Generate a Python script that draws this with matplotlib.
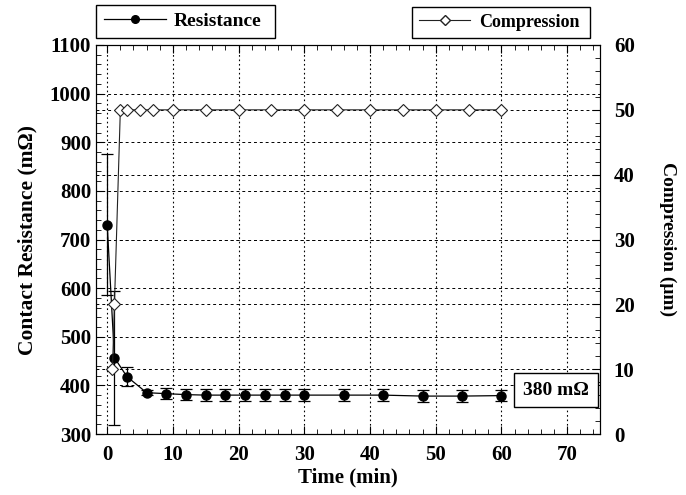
import matplotlib
matplotlib.use("Agg")
import matplotlib.pyplot as plt
from matplotlib.ticker import MultipleLocator
from matplotlib.lines import Line2D

plt.rcParams['font.family'] = ['Liberation Serif', 'DejaVu Serif']
plt.rcParams['font.weight'] = 'bold'

# resistance data (mOhm)
t_res = [0, 1.1, 3, 6, 9, 12, 15, 18, 21, 24, 27, 30, 36, 42, 48, 54, 60]
resistance = [730, 457, 418, 385, 383, 381, 380, 380, 380, 380, 380, 380, 380, 380, 378, 378, 379]
res_err = [145, 138, 19, 5, 12, 12, 12, 12, 12, 12, 12, 12, 12, 12, 12, 12, 12]

# compression data (um)
t_comp = [0.8, 1.1, 2, 3, 5, 7, 10, 15, 20, 25, 30, 35, 40, 45, 50, 55, 60]
compression = [10, 20, 50, 50, 50, 50, 50, 50, 50, 50, 50, 50, 50, 50, 50, 50, 50]

fig = plt.figure(figsize=(6.86, 4.95), dpi=100)
ax = fig.add_axes([0.14, 0.1232, 0.7346, 0.7859])
ax2 = ax.twinx()

ax.errorbar(t_res, resistance, yerr=res_err, color='black', lw=0.9,
            marker='o', markersize=6.5, capsize=4, elinewidth=0.9, capthick=0.9, zorder=3)
ax2.plot(t_comp, compression, color='#222222', lw=0.8, marker='D', markersize=6,
         markerfacecolor='white', markeredgecolor='#222222', markeredgewidth=0.8, zorder=3)

ax.set_xlim(-1.7, 75)
ax.set_ylim(300, 1100)
ax2.set_ylim(0, 60)

ax.xaxis.set_major_locator(MultipleLocator(10))
ax.xaxis.set_minor_locator(MultipleLocator(2))
ax.yaxis.set_major_locator(MultipleLocator(100))
ax.yaxis.set_minor_locator(MultipleLocator(20))
ax2.yaxis.set_major_locator(MultipleLocator(10))
ax2.yaxis.set_minor_locator(MultipleLocator(2))

ax.tick_params(which='both', direction='in', top=True, right=False, labelsize=15)
ax.tick_params(which='major', length=6)
ax.tick_params(which='minor', length=3.5)
ax.tick_params(axis='x', pad=8)
ax2.tick_params(which='both', direction='in', labelsize=15, pad=10)
ax2.tick_params(which='major', length=6)
ax2.tick_params(which='minor', length=3.5)
for lab in ax.get_xticklabels() + ax.get_yticklabels() + ax2.get_yticklabels():
    lab.set_fontweight('bold')

ax.xaxis.grid(True, which='major', linestyle=(0, (1.5, 2.5)), color='black', lw=0.8)
ax.yaxis.grid(True, which='major', linestyle=(0, (3, 3)), color='black', lw=0.7)
ax2.yaxis.grid(True, which='major', linestyle=(0, (3, 3)), color='black', lw=0.7)

ax.set_xlabel('Time (min)', fontsize=15, fontweight='bold', labelpad=2)
ax.set_ylabel('Contact Resistance (m\u03a9)', fontsize=15.5, fontweight='bold', labelpad=9)
ax2.set_ylabel('Compression (\u03bcm)', fontsize=14, fontweight='bold', rotation=270, labelpad=30)

h1 = Line2D([], [], color='black', lw=0.9, marker='o', markersize=5.5)
h2 = Line2D([], [], color='#222222', lw=0.8, marker='D', markersize=5,
            markerfacecolor='white', markeredgecolor='#222222')
leg1 = ax2.legend([h1], ['Resistance'], loc='lower left', bbox_to_anchor=(0, 1.018, 0.355, 0.08),
                  mode='expand', fancybox=False, edgecolor='black', framealpha=1,
                  handlelength=3.2, handletextpad=0.4, borderaxespad=0,
                  prop={'weight': 'bold', 'size': 14})
leg1.get_frame().set_linewidth(1.0)
ax2.add_artist(leg1)
leg2 = ax2.legend([h2], ['Compression'], loc='lower left', bbox_to_anchor=(0.627, 1.018, 0.353, 0.08),
                  mode='expand', fancybox=False, edgecolor='black', framealpha=1,
                  handlelength=2.8, handletextpad=0.5, borderpad=0.4, borderaxespad=0,
                  prop={'weight': 'bold', 'size': 13})
leg2.get_frame().set_linewidth(1.0)

ax2.text(0.913, 0.113, '380 m\u03a9', transform=ax.transAxes, fontsize=14, fontweight='bold',
         ha='center', va='center',
         bbox=dict(boxstyle='square,pad=0.45', facecolor='white', edgecolor='black', lw=1.0))

fig.savefig('out.png', dpi=100)
